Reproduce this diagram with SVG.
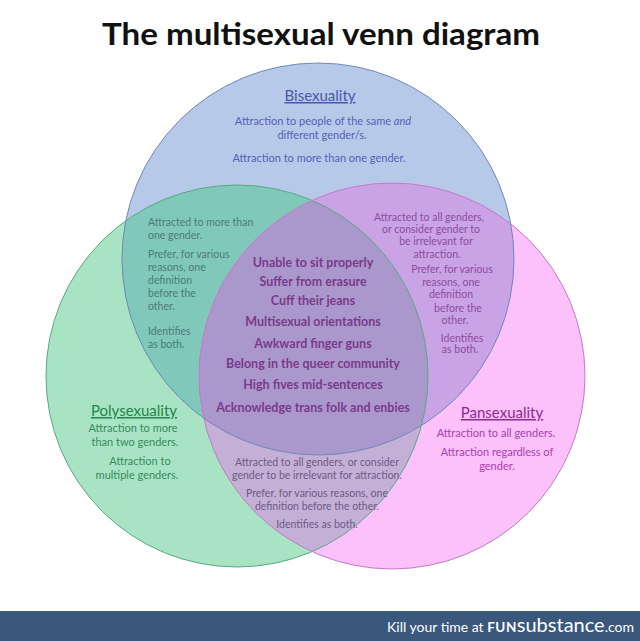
<svg xmlns="http://www.w3.org/2000/svg" width="640" height="641" viewBox="0 0 640 641">
<style>
text{font-family:Lato,"Open Sans","Liberation Sans",sans-serif}
.title{font-size:31px;font-weight:700;fill:#111}
.h{font-size:15px;text-decoration:underline}
.lens{font-size:10.5px}
.ctr{font-size:12.5px;font-weight:700;fill:#7a3a8a;text-anchor:middle}
.bi{fill:#5560b8;font-size:11px;text-anchor:middle}
.ll{fill:#4b7d76}
.rl{fill:#8a4e9e}
.bl{fill:#6e5a86;text-anchor:middle}
.po{fill:#3a8a5a;font-size:11px;text-anchor:middle}
.pa{fill:#a840b0;font-size:11px;text-anchor:middle}
.ring{fill:none;stroke-width:1}
</style>
<defs>
<clipPath id="cB"><circle cx="318" cy="259" r="196"/></clipPath>
<clipPath id="cG"><circle cx="237" cy="376" r="191"/></clipPath>
</defs>
<rect width="640" height="641" fill="#fff"/>
<text class="title" x="321" y="45" text-anchor="middle" textLength="438" lengthAdjust="spacingAndGlyphs">The multisexual venn diagram</text>

<g id="regions">
<circle cx="318" cy="259" r="196" fill="#b7c9e8"/>
<circle cx="237" cy="376" r="191" fill="#a8e4c4"/>
<circle cx="392" cy="376" r="193" fill="#fcc0fa"/>
<circle cx="237" cy="376" r="191" fill="#80c8ba" clip-path="url(#cB)"/>
<circle cx="392" cy="376" r="193" fill="#caa2e6" clip-path="url(#cB)"/>
<circle cx="392" cy="376" r="193" fill="#c4b0d6" clip-path="url(#cG)"/>
<g clip-path="url(#cG)"><circle cx="392" cy="376" r="193" fill="#aa98cc" clip-path="url(#cB)"/></g>
<circle class="ring" cx="318" cy="259" r="196" stroke="#7088bc"/>
<circle class="ring" cx="237" cy="376" r="191" stroke="#5aa884"/>
<circle class="ring" cx="392" cy="376" r="193" stroke="#c47ac4"/>
</g>

<g id="bisexuality">
<text class="h" x="320" y="101" text-anchor="middle" fill="#4a55b0">Bisexuality</text>
<text class="bi" x="323" y="125">Attraction to people of the same <tspan font-style="italic">and</tspan></text>
<text class="bi" x="322" y="139">different gender/s.</text>
<text class="bi" x="319" y="162">Attraction to more than one gender.</text>
</g>

<g id="bi-poly" class="lens ll">
<text x="148" y="226">Attracted to more than</text>
<text x="148" y="239">one gender.</text>
<text x="148" y="258">Prefer, for various</text>
<text x="148" y="271">reasons, one</text>
<text x="148" y="284">definition</text>
<text x="148" y="297">before the</text>
<text x="148" y="310">other.</text>
<text x="148" y="335">Identifies</text>
<text x="148" y="348">as both.</text>
</g>

<g id="bi-pan" class="lens rl" text-anchor="middle">
<text x="429" y="221">Attracted to all genders,</text>
<text x="431" y="233">or consider gender to</text>
<text x="436" y="245">be irrelevant for</text>
<text x="437" y="258">attraction.</text>
<text x="452" y="273">Prefer, for various</text>
<text x="451" y="286">reasons, one</text>
<text x="451" y="298">definition</text>
<text x="458" y="312">before the</text>
<text x="455" y="324">other.</text>
<text x="462" y="342">Identifies</text>
<text x="460" y="353">as both.</text>
</g>

<g id="center">
<text class="ctr" x="313" y="267">Unable to sit properly</text>
<text class="ctr" x="313" y="286">Suffer from erasure</text>
<text class="ctr" x="313" y="305">Cuff their jeans</text>
<text class="ctr" x="313" y="326">Multisexual orientations</text>
<text class="ctr" x="313" y="348">Awkward finger guns</text>
<text class="ctr" x="313" y="368">Belong in the queer community</text>
<text class="ctr" x="313" y="389">High fives mid-sentences</text>
<text class="ctr" x="313" y="412">Acknowledge trans folk and enbies</text>
</g>

<g id="polysexuality">
<text class="h" x="134" y="416" text-anchor="middle" fill="#23864a">Polysexuality</text>
<text class="po" x="133" y="432">Attraction to more</text>
<text class="po" x="135" y="446">than two genders.</text>
<text class="po" x="140" y="465">Attraction to</text>
<text class="po" x="137" y="479">multiple genders.</text>
</g>

<g id="pansexuality">
<text class="h" x="502" y="418" text-anchor="middle" fill="#8e2a90">Pansexuality</text>
<text class="pa" x="496" y="437">Attraction to all genders.</text>
<text class="pa" x="497" y="456">Attraction regardless of</text>
<text class="pa" x="497" y="470">gender.</text>
</g>

<g id="poly-pan" class="lens">
<text class="bl" x="317" y="466">Attracted to all genders, or consider</text>
<text class="bl" x="317" y="479">gender to be irrelevant for attraction.</text>
<text class="bl" x="317" y="497">Prefer, for various reasons, one</text>
<text class="bl" x="317" y="510">definition before the other.</text>
<text class="bl" x="317" y="528">Identifies as both.</text>
</g>

<g id="footer">
<rect x="0" y="611" width="640" height="30" fill="#3a577c"/>
<text x="387" y="632" fill="#fff" font-size="14" font-family="'Open Sans',sans-serif">Kill your time at <tspan font-weight="700" font-size="13.5" letter-spacing="0.5">FUN</tspan><tspan font-size="20">substance</tspan><tspan font-size="14">.com</tspan></text>
</g>
</svg>
